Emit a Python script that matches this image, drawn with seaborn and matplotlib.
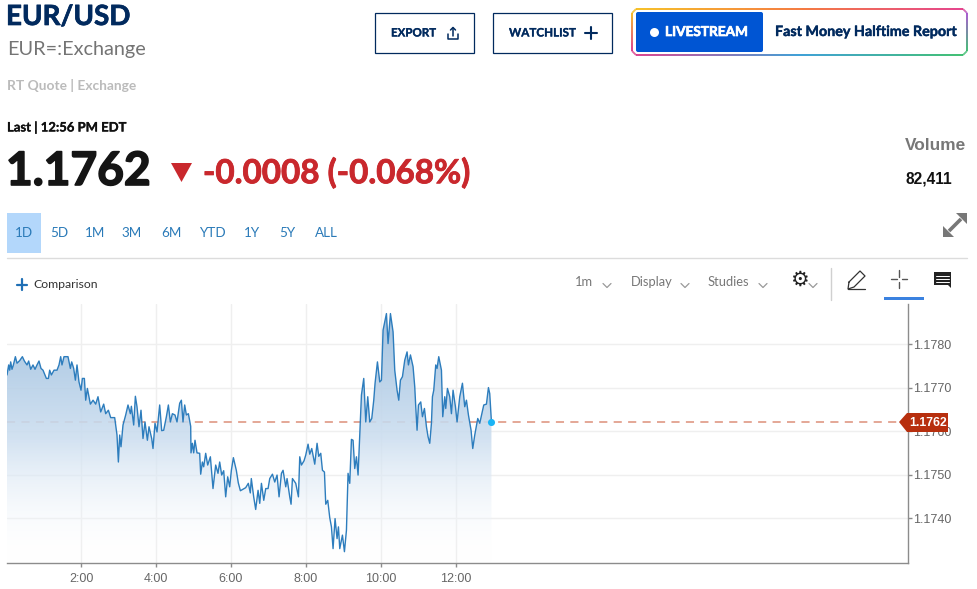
import matplotlib
matplotlib.use("Agg")
import matplotlib.pyplot as plt
import matplotlib.patches as mpatches
import matplotlib.patheffects as pe
from matplotlib.collections import LineCollection
from matplotlib.colors import LinearSegmentedColormap, to_rgb
import numpy as np
import pandas as pd
import seaborn as sns

# minutes after midnight
minutes = [1.6, 4.3, 5.9, 7.5, 9.6, 11.8, 15, 17.6, 21.9, 26.2, 29.4, 33.6, 36.3, 39.5, 43.2, 46.4, 49.6, 52.8, 56, 59.2,
           64.6, 67.8, 69.9, 72.6, 76.8, 81.6, 84.8, 87.5, 89.6, 92.8, 99.2, 103, 105.1, 108.3, 111, 113.6, 116.8, 120,
           122.2, 125.4, 127.5, 130.2, 135, 139.3, 143.5, 147.2, 151.5, 156.3, 159.5, 163.8, 167.5, 173.9, 177.6, 179.8,
           181.9, 184, 187.2, 191.5, 195.2, 199, 200.6, 204.3, 207, 209.6, 212.8, 216, 219.2, 222.4, 226.2, 228.8, 233.1,
           235.2, 238.4, 241.6, 245.9, 249.1, 252.3, 256.6, 259.8, 263, 266.2, 270.4, 273.6, 277.9, 280.6, 283.2, 285.9,
           288.6, 291.8, 295.5, 296, 298.2, 300.3, 302.4, 305.6, 309.9, 311.5, 314.2, 316.3, 319.5, 322.7, 327, 331.2,
           335.5, 339.2, 341.9, 345.1, 348.3, 351.5, 354.7, 357.9, 360.6, 363.8, 368.5, 371.7, 375, 383.5, 387.7, 390.9,
           392.5, 396.3, 399.5, 403.3, 406, 408.7, 412.4, 415.6, 419.3, 422, 426.3, 430, 433.7, 436.9, 440.7, 443.3, 447.6,
           449.7, 454, 456.1, 458.3, 463.6, 467.9, 470, 472.7, 476.9, 479.6, 483.3, 486, 489.2, 494, 497.7, 500.4, 503.6,
           506.3, 509.5, 511.6, 514.8, 518, 520.7, 523.3, 526.5, 529.7, 531.9, 534, 538.3, 541.5, 544.7, 547.3, 550, 552.7,
           555.3, 558, 560.7, 563.3, 566, 568.7, 572.4, 575.6, 578.8, 582, 585.2, 588.4, 590.5, 594.3, 598, 600.7, 603.3,
           606, 608.7, 611.3, 615.1, 619.3, 622, 625.7, 628.4, 631.1, 634.3, 638, 641.7, 643.9, 647.1, 651.3, 654, 655.6,
           657.7, 659.9, 663.6, 666.3, 669.5, 672.7, 675.3, 678, 680.7, 682.3, 684.4, 687.6, 689.7, 692.4, 696.7, 698.8,
           702, 703.6, 706.3, 710, 712.7, 715.3, 719.1, 721.7, 726, 730.3, 734, 736.7, 739.9, 744.1, 746.8, 750, 754.8,
           758, 764.4, 768.7, 771.9, 774, 776.7]

prices = [1.17729, 1.17752, 1.17740, 1.17759, 1.17742, 1.17752, 1.17771, 1.17756, 1.17762, 1.17771, 1.17761, 1.17752,
          1.17761, 1.17742, 1.17752, 1.17742, 1.17752, 1.17761, 1.17744, 1.17740, 1.17721, 1.17721, 1.17740, 1.17729,
          1.17740, 1.17740, 1.17752, 1.17771, 1.17752, 1.17771, 1.17771, 1.17744, 1.17759, 1.17744, 1.17717, 1.17752,
          1.17713, 1.17694, 1.17721, 1.17721, 1.17671, 1.17698, 1.17662, 1.17671, 1.17662, 1.17679, 1.17644, 1.17662,
          1.17640, 1.17648, 1.17631, 1.17631, 1.17591, 1.17529, 1.17591, 1.17564, 1.17614, 1.17637, 1.17660, 1.17640,
          1.17657, 1.17614, 1.17680, 1.17656, 1.17610, 1.17648, 1.17583, 1.17621, 1.17579, 1.17610, 1.17583, 1.17560,
          1.17618, 1.17598, 1.17660, 1.17601, 1.17602, 1.17633, 1.17660, 1.17621, 1.17640, 1.17637, 1.17621, 1.17664,
          1.17671, 1.17621, 1.17660, 1.17637, 1.17640, 1.17611, 1.17550, 1.17572, 1.17550, 1.17579, 1.17550, 1.17549,
          1.17501, 1.17529, 1.17518, 1.17549, 1.17522, 1.17541, 1.17468, 1.17522, 1.17503, 1.17529, 1.17499, 1.17509,
          1.17449, 1.17495, 1.17472, 1.17510, 1.17539, 1.17510, 1.17481, 1.17463, 1.17470, 1.17480, 1.17458, 1.17491,
          1.17449, 1.17420, 1.17464, 1.17434, 1.17480, 1.17441, 1.17468, 1.17468, 1.17491, 1.17501, 1.17483, 1.17499,
          1.17449, 1.17503, 1.17510, 1.17472, 1.17491, 1.17449, 1.17432, 1.17491, 1.17480, 1.17449, 1.17541, 1.17522,
          1.17532, 1.17545, 1.17570, 1.17547, 1.17560, 1.17524, 1.17572, 1.17542, 1.17549, 1.17510, 1.17506, 1.17432,
          1.17441, 1.17401, 1.17380, 1.17330, 1.17399, 1.17353, 1.17380, 1.17330, 1.17361, 1.17323, 1.17372, 1.17503,
          1.17480, 1.17581, 1.17579, 1.17514, 1.17541, 1.17499, 1.17591, 1.17683, 1.17721, 1.17621, 1.17679, 1.17621,
          1.17629, 1.17671, 1.17710, 1.17759, 1.17713, 1.17717, 1.17832, 1.17851, 1.17870, 1.17801, 1.17870, 1.17828,
          1.17740, 1.17694, 1.17671, 1.17717, 1.17725, 1.17763, 1.17782, 1.17752, 1.17775, 1.17748, 1.17702, 1.17656,
          1.17602, 1.17660, 1.17667, 1.17633, 1.17652, 1.17610, 1.17587, 1.17572, 1.17618, 1.17679, 1.17694, 1.17752,
          1.17744, 1.17771, 1.17740, 1.17633, 1.17679, 1.17652, 1.17698, 1.17679, 1.17640, 1.17694, 1.17656, 1.17621,
          1.17679, 1.17710, 1.17656, 1.17671, 1.17637, 1.17602, 1.17560, 1.17591, 1.17629, 1.17618, 1.17660, 1.17662,
          1.17700, 1.17686, 1.17621]

hour_ticks = [120, 240, 360, 480, 600, 720]
hour_labels = ["2:00", "4:00", "6:00", "8:00", "10:00", "12:00"]
price_ticks = [1.174, 1.175, 1.176, 1.177, 1.178]
price_labels = ["1.1740", "1.1750", "1.1760", "1.1770", "1.1780"]
last_price = 1.1762
ranges = ["1D", "5D", "1M", "3M", "6M", "YTD", "1Y", "5Y", "ALL"]
range_centers = [24, 59, 95, 132, 171, 212, 252, 287, 326]

NAVY = "#012a5e"
W, H = 977, 589
x0, x1, top, bottom = 7, 908, 304, 563

sns.set_theme(style="white")
plt.rcParams["font.family"] = ["Lato", "DejaVu Sans"]

fig = plt.figure(figsize=(W / 100, H / 100), dpi=100)
ax = fig.add_axes([x0 / W, 1 - bottom / H, (x1 - x0) / W, (bottom - top) / H])

df = pd.DataFrame({"minute": minutes, "price": prices})

y_min, y_max = 1.17297, 1.17892
x_min, x_max = 1.6, 1443.2

ax.axhline(last_price, color="#e2a08e", lw=1.3, ls=(0, (4.5, 3.5)), zorder=1.5)
fill = ax.fill_between(df["minute"], df["price"], y_min, facecolor="none", edgecolor="none")
cmap = LinearSegmentedColormap.from_list("fade", [(1, 1, 1, 0), (0.80, 0.87, 0.94, 0.88), (0.62, 0.75, 0.87, 0.95)])
im = ax.imshow(np.linspace(0, 1, 256).reshape(-1, 1), extent=[x_min, x_max, y_min, 1.1787], origin="lower",
               aspect="auto", cmap=cmap, zorder=2)
im.set_clip_path(fill.get_paths()[0], transform=ax.transData)
sns.lineplot(data=df, x="minute", y="price", color="#2d7dbd", lw=1.0, ax=ax, zorder=3)
ax.scatter([776.7], [last_price], s=26, color="#1ab4f5", zorder=4, linewidths=0)

ax.set_xlim(x_min, x_max)
ax.set_ylim(y_min, y_max)
ax.set_xticks(hour_ticks, hour_labels)
ax.set_yticks(price_ticks, price_labels)
ax.yaxis.tick_right()
ax.grid(True, color="#efefef", lw=1)
ax.set_axisbelow(True)
ax.set_xlabel("")
ax.set_ylabel("")
for side in ["top", "left"]:
    ax.spines[side].set_visible(False)
for side in ["bottom", "right"]:
    ax.spines[side].set_color("#8c8c8c")
    ax.spines[side].set_linewidth(1)
ax.tick_params(axis="x", length=3, width=1, color="#8c8c8c", labelcolor="#666666", labelsize=9, bottom=True, pad=4.5)
ax.tick_params(axis="y", length=3, width=1, color="#8c8c8c", labelcolor="#666666", labelsize=9, right=True, pad=0.5)
for lab in ax.get_xticklabels() + ax.get_yticklabels():
    lab.set_family("Liberation Sans")

# page furniture around the chart, in pixel coordinates
ui = fig.add_axes([0, 0, 1, 1], facecolor="none")
ui.set_xlim(0, W)
ui.set_ylim(H, 0)
ui.axis("off")


def label(x, y, s, size, color, weight="normal", ha="left", heavy=0, **kw):
    t = ui.text(x, y, s, fontsize=size, color=color, fontweight=weight, ha=ha, va="center", **kw)
    if heavy:
        t.set_path_effects([pe.withStroke(linewidth=heavy, foreground=color)])


label(6, 17, "EUR/USD", 20, NAVY, "bold", heavy=0.5)
label(7, 49, "EUR=:Exchange", 14.3, "#747474")
label(7, 85, "RT Quote | Exchange", 9.9, "#bbbbbb", "bold")
label(7, 127, "Last | 12:56 PM EDT", 9.4, "#111111", "bold", heavy=0.2)
label(6, 172, "1.1762", 33.2, "#151515", "bold", heavy=1.2)
ui.add_patch(mpatches.Polygon([(171, 163), (192, 163), (181.5, 182)], color="#c9282d", lw=0))
label(203, 173, "-0.0008 (-0.068%)", 23.9, "#c9282d", "bold", heavy=0.6)

ui.add_patch(mpatches.Rectangle((7, 213), 34, 40, color="#b3d7fb", lw=0))
for name, cx in zip(ranges, range_centers):
    label(cx, 233, name, 9.7, "#2a7ab8", ha="center")
ui.plot([7, 967], [257.5, 257.5], color="#dcdcdc", lw=1)

# buttons
for bx, bw in [(375, 99), (493, 119)]:
    ui.add_patch(mpatches.Rectangle((bx, 13), bw, 40, fill=False, ec=NAVY, lw=0.9))
label(391, 33, "EXPORT", 8.3, NAVY, "bold", heavy=0.2)
label(509, 33, "WATCHLIST", 8.4, NAVY, "bold", heavy=0.2)
ui.plot([591, 591], [27, 39], color=NAVY, lw=1.5)
ui.plot([585, 597], [33, 33], color=NAVY, lw=1.5)
ui.plot([448, 448, 458, 458], [34, 39, 39, 34], color=NAVY, lw=1.1)
ui.plot([453, 453], [28, 36], color=NAVY, lw=1.1)
ui.plot([450.5, 453, 455.5], [30, 27.5, 30], color=NAVY, lw=1.1)

# rainbow border of the livestream box
bx0, bx1, by0, by1 = 632, 967, 9, 55
r = 4
corners = [(bx0 + r, by0), (bx0 + 170, by0), (bx1 - r, by0), (bx1, by0 + r), (bx1, by1 - r), (bx1 - r, by1),
           (bx0 + 170, by1), (bx0 + r, by1), (bx0, by1 - r), (bx0, by0 + r), (bx0 + r, by0)]
shades = ["#f5b400", "#f2601e", "#e0207a", "#9a3fc7", "#1fb45a", "#1fb45a", "#1a8fd0", "#d8207c", "#d8207c", "#f5b400", "#f5b400"]
seg_pts, seg_cols = [], []
for i in range(len(corners) - 1):
    a, b = np.array(corners[i]), np.array(corners[i + 1])
    ca, cb = np.array(to_rgb(shades[i])), np.array(to_rgb(shades[i + 1]))
    for t0, t1 in zip(np.linspace(0, 1, 30)[:-1], np.linspace(0, 1, 30)[1:]):
        seg_pts.append([a + (b - a) * t0, a + (b - a) * t1])
        seg_cols.append(ca + (cb - ca) * t0)
ui.add_collection(LineCollection(seg_pts, colors=seg_cols, linewidths=1.2))
ui.add_patch(mpatches.FancyBboxPatch((637, 13), 125, 38, boxstyle="round,pad=1,rounding_size=2", color="#0055d3", lw=0))
ui.scatter([654], [32], s=42, color="white", linewidths=0)
label(665, 32, "LIVESTREAM", 9.8, "white", "bold", heavy=0.5)
label(775, 32, "Fast Money Halftime Report", 10.3, "#012a5e", "bold", heavy=0.3)

label(905, 146, "Volume", 12.4, "#777777", "bold", family="Liberation Sans")
label(905, 179, "82,411", 11.2, "#111111", "bold", family="Liberation Sans")
# expand icon
ui.plot([949, 961], [231, 219], color="#777777", lw=2.6, solid_capstyle="butt")
ui.add_patch(mpatches.Polygon([(967, 213), (967, 224), (956, 213)], color="#777777", lw=0))
ui.add_patch(mpatches.Polygon([(943, 237), (943, 226), (954, 237)], color="#777777", lw=0))

# chart toolbar
ui.plot([22, 22], [279, 290], color="#1f6fb5", lw=1.6)
ui.plot([17, 27], [284.5, 284.5], color="#1f6fb5", lw=1.6)
label(33, 285, "Comparison", 8.8, "#333333")
label(575, 282, "1m", 9.3, "#777777")
label(631, 282, "Display", 9.3, "#777777")
label(708, 282, "Studies", 9.3, "#777777")
for cx in [607, 685, 763, 813]:
    ui.plot([cx - 4, cx, cx + 4], [283.5, 287.5, 283.5], color="#999999", lw=0.9)
ui.text(799, 280, "\u2699", fontsize=15, color="#222222", ha="center", va="center", family="DejaVu Sans")
ui.plot([831, 831], [268, 300], color="#d0d0d0", lw=1)
# pencil
ui.plot([849, 860, 865, 854, 848, 849], [282, 271, 276, 287, 289, 282], color="#333333", lw=0.9)
ui.plot([848, 865], [289, 289], color="#333333", lw=0.9)
# crosshair
ui.plot([899, 899], [270, 276.5], color="#555555", lw=1)
ui.plot([899, 899], [281.5, 288], color="#555555", lw=1)
ui.plot([891, 896.5], [279, 279], color="#555555", lw=1)
ui.plot([901.5, 907], [279, 279], color="#555555", lw=1)
ui.add_patch(mpatches.Rectangle((884, 297), 40, 3, color="#3b82e0", lw=0))
# comment icon
ui.add_patch(mpatches.Polygon([(934, 272), (951, 272), (951, 288), (948, 285), (934, 285)], color="#222222", lw=0))
for ly in [275.5, 278.5, 281.5]:
    ui.plot([936, 949], [ly, ly], color="white", lw=0.7)

# last price tag
ui.add_patch(mpatches.Polygon([(899, 422), (907, 413), (948, 413), (948, 432), (907, 432)], color="#b72f0e", lw=0))
ui.text(928, 422.5, "1.1762", fontsize=8.8, color="white", fontweight="bold", ha="center", va="center", family="Liberation Sans")

fig.savefig("out.png", dpi=100)
